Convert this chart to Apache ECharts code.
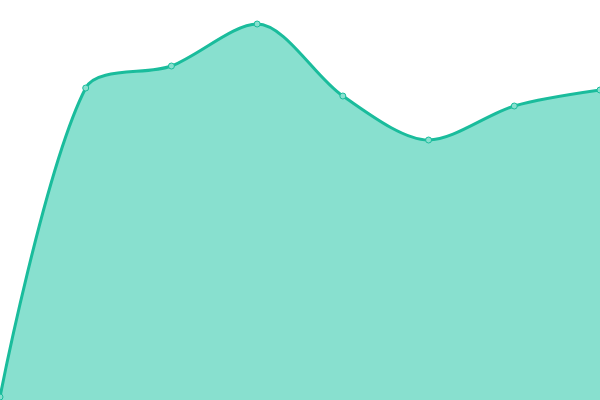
<!DOCTYPE html>
<html><head><meta charset="utf-8">
<script src="https://cdn.jsdelivr.net/npm/echarts@6/dist/echarts.min.js"></script>
<style>html,body{margin:0;padding:0;background:#fff}#c{width:600px;height:400px}</style>
</head><body><div id="c"></div>
<script>
var categories = ['A','B','C','D','E','F','G','H'];
var values = [3, 312, 334, 376, 304, 260, 294, 310];
var chart = echarts.init(document.getElementById('c'));
chart.setOption({
  animation: false,
  grid: {left: 0, right: 0, top: 0, bottom: 0},
  xAxis: {type: 'category', data: categories, boundaryGap: false, show: false},
  yAxis: {type: 'value', min: 0, max: 400, show: false},
  series: [{
    type: 'line', data: values, smooth: 0.3,
    symbol: 'circle', symbolSize: 6,
    lineStyle: {color: '#1abc9c', width: 3},
    itemStyle: {color: '#88e0cf', borderColor: '#1abc9c', borderWidth: 1},
    areaStyle: {color: '#88e0cf', opacity: 1}
  }]
});
</script></body></html>
